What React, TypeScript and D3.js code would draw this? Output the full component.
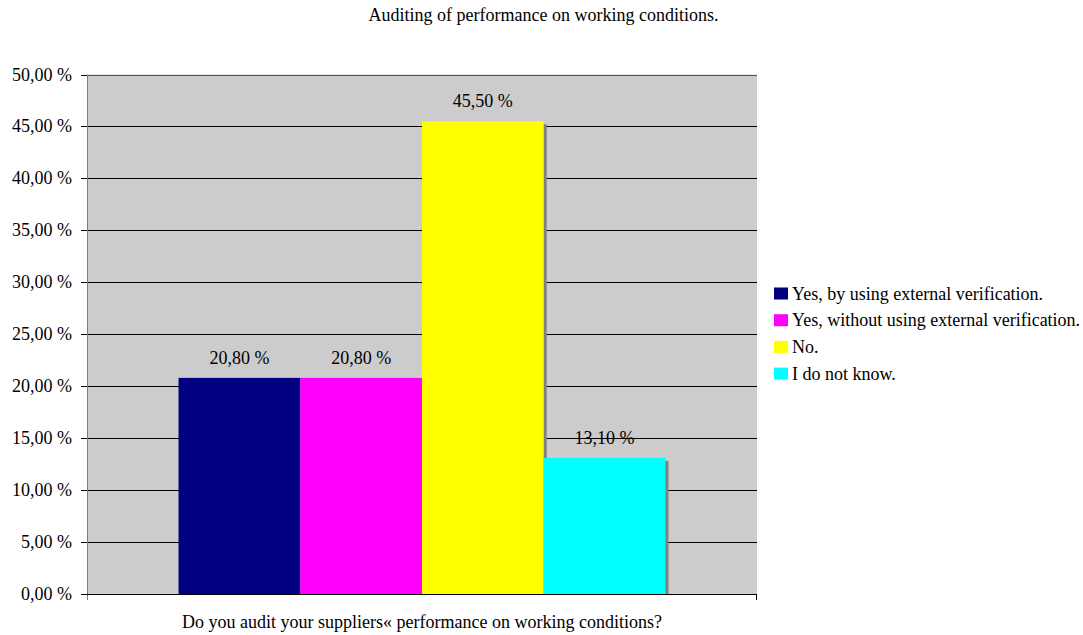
import React from "react";
import * as d3 from "d3";

const title = "Auditing of performance on working conditions.";
const categories = ["Do you audit your suppliers« performance on working conditions?"];
const seriesNames = [
  "Yes, by using external verification.",
  "Yes, without using external verification.",
  "No.",
  "I do not know.",
];
const seriesValues = [20.8, 20.8, 45.5, 13.1];
const seriesColors = ["#000080", "#FF00FF", "#FFFF00", "#00FFFF"];
const yTicks = [0, 5, 10, 15, 20, 25, 30, 35, 40, 45, 50];

const W = 1083;
const H = 635;
const FONT = "Liberation Serif, Times New Roman, Times, serif";
const plot = { left: 87, right: 757, top: 74.5, bottom: 594 };

const fmt = (v: number) => v.toFixed(2).replace(".", ",") + " %";

export default function App() {
  const y = d3.scaleLinear().domain([0, 50]).range([plot.bottom, plot.top]);
  const xCat = d3
    .scaleBand<string>()
    .domain(categories)
    .range([plot.left, plot.right])
    .paddingInner(0)
    .paddingOuter(0.188);
  const xSer = d3
    .scaleBand<string>()
    .domain(seriesNames)
    .range([0, xCat.bandwidth()])
    .padding(0);

  const fs = 18;
  const ts = { fontFamily: FONT, fontSize: fs + "px" } as React.CSSProperties;

  return (
    <svg
      width={W}
      height={H}
      style={{ position: "absolute", left: 0, top: 0, display: "block", background: "#fff", fontFamily: FONT }}
    >
      <text x={543.5} y={21} textAnchor="middle" style={ts} fill="#000">
        {title}
      </text>
      <rect
        x={plot.left}
        y={plot.top}
        width={plot.right - plot.left}
        height={plot.bottom - plot.top}
        fill="#CCCCCC"
      />
      {yTicks.map((t) => (
        <line
          key={"g" + t}
          x1={plot.left}
          x2={plot.right}
          y1={Math.round(y(t)) + 0.5}
          y2={Math.round(y(t)) + 0.5}
          stroke={t === 50 ? "#555" : "#000"}
          strokeWidth={1}
        />
      ))}
      {yTicks.map((t) => (
        <g key={"t" + t}>
          <line
            x1={plot.left - 6}
            x2={plot.left}
            y1={Math.round(y(t)) + 0.5}
            y2={Math.round(y(t)) + 0.5}
            stroke="#000"
          />
          <text x={72} y={y(t) + 6} textAnchor="end" style={ts} fill="#000">
            {fmt(t)}
          </text>
        </g>
      ))}
      {categories.map((c) => (
        <g key={c} transform={`translate(${xCat(c)},0)`}>
          {seriesNames.map((s, i) => {
            const x0 = xSer(s)!;
            const bw = xSer.bandwidth();
            const top = y(seriesValues[i]);
            return (
              <g key={s}>
                <rect x={x0 + 3} y={top + 3} width={bw} height={plot.bottom - top - 3} fill="#808080" />
                <rect x={x0} y={top} width={bw} height={plot.bottom - top} fill={seriesColors[i]} />
              </g>
            );
          })}
          {seriesNames.map((s, i) => {
            const x0 = xSer(s)!;
            const bw = xSer.bandwidth();
            const top = y(seriesValues[i]);
            return (
              <text key={"l" + s} x={x0 + bw / 2} y={top - 14} textAnchor="middle" style={ts} fill="#000">
                {fmt(seriesValues[i])}
              </text>
            );
          })}
          <text x={xCat.bandwidth() / 2} y={628} textAnchor="middle" style={ts} fill="#000">
            {c}
          </text>
        </g>
      ))}
      <line x1={plot.left + 0.5} x2={plot.left + 0.5} y1={plot.top} y2={plot.bottom + 6} stroke="#808080" />
      <line x1={plot.left} x2={plot.right} y1={plot.bottom + 0.5} y2={plot.bottom + 0.5} stroke="#000" />
      <line x1={plot.right - 0.5} x2={plot.right - 0.5} y1={plot.bottom} y2={plot.bottom + 6} stroke="#000" />
      {seriesNames.map((s, i) => (
        <g key={"lg" + s} transform={`translate(774, ${299.5 + i * 26.7})`}>
          <rect x={0} y={-12} width={14} height={12} fill={seriesColors[i]} />
          <text x={18} y={0} style={ts} fill="#000">
            {s}
          </text>
        </g>
      ))}
    </svg>
  );
}
